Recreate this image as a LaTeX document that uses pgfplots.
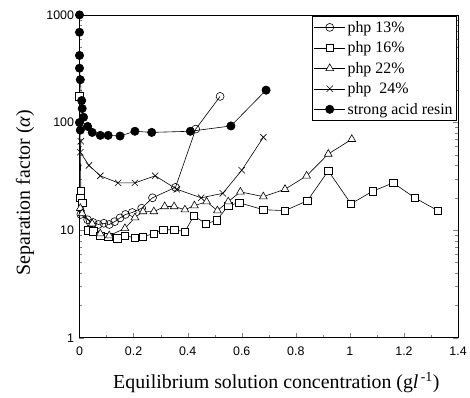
\documentclass[border=0pt]{standalone}
\usepackage{fontspec}
\setmainfont{Liberation Serif}
\newfontfamily\arial{Liberation Sans}
\usepackage{pgfplots}
\pgfplotsset{compat=1.18}
\begin{document}
\begin{tikzpicture}
\begin{axis}[
  scale only axis, width=381pt, height=325pt,
  xmin=0, xmax=1.4, ymin=1, ymax=1000, ymode=log,
  xtick={0,0.2,0.4,0.6,0.8,1,1.2,1.4},
  xticklabels={0,0.2,0.4,0.6,0.8,1,1.2,1.4},
  minor x tick num=1,
  ytick={1,10,100,1000}, yticklabels={1,10,100,1000},
  tick align=inside, xtick pos=left, ytick pos=both,
  major tick length=5pt, minor tick length=3pt,
  ticklabel style={font=\arial\fontsize{12.5}{14}\selectfont},
  xticklabel style={yshift=-6pt},
  yticklabel style={xshift=-2pt},
  axis line style={line width=0.8pt},
  xlabel={Equilibrium solution concentration (g\textit{l}\textsuperscript{\,-1})},
  ylabel={Separation factor (\textit{α})},
  label style={font=\fontsize{20}{24}\selectfont},
  xlabel style={at={(rel axis cs:0.52,-0.157)}, anchor=base},
  ylabel style={at={(rel axis cs:-0.144,0.45)}, anchor=center},
  legend style={at={(rel axis cs:0.997,0.997)}, anchor=north east,
    font=\fontsize{16}{18}\selectfont, draw=black, line width=0.6pt,
    inner xsep=2pt, inner ysep=3pt, row sep=4pt},
  legend cell align=left,
  legend image code/.code={\draw[mark repeat=2,mark phase=2,#1] plot coordinates {(0cm,0cm) (0.55cm,0cm) (1.1cm,0cm)};},
  clip=false,
  every axis plot/.append style={black, line width=0.6pt},
]
% php 13%
\addplot[mark=o, mark options={fill=white, solid}, mark size=4pt] coordinates {
(0.005,14) (0.03,12.5) (0.05,11.8) (0.07,11.3) (0.09,11.6) (0.11,11.3) (0.13,12)
(0.15,13) (0.17,14) (0.195,14.6) (0.23,16) (0.27,20) (0.355,25) (0.43,87) (0.52,175)};
\addlegendentry{php 13\%}
% php 16%
\addplot[mark=square*, mark options={fill=white}, mark size=3.8pt] coordinates {
(0.0,175) (0.005,23) (0.003,20) (0.01,18) (0.033,10) (0.051,9.8) (0.077,8.9) (0.106,8.7)
(0.139,8.4) (0.168,8.9) (0.205,8.5) (0.234,8.7) (0.274,9.3) (0.31,10.1) (0.35,10.1)
(0.39,9.7) (0.423,13.6) (0.467,11.5) (0.507,12.3) (0.55,16.9) (0.59,18) (0.68,15.5)
(0.76,15.2) (0.843,18.8) (0.92,35.6) (1.004,17.6) (1.084,23) (1.16,27.5) (1.24,20) (1.325,15.2)};
\addlegendentry{php 16\%}
% php 22%
\addplot[mark=triangle*, mark options={fill=white}, mark size=4.5pt] coordinates {
(0.003,16) (0.01,14.3) (0.047,11.5) (0.077,9.3) (0.11,8.9) (0.168,10.4) (0.205,13.1)
(0.235,14.9) (0.275,14.9) (0.315,16.6) (0.35,16.6) (0.39,15.5) (0.425,16.9) (0.47,18.4)
(0.51,15.2) (0.55,18.4) (0.595,22.7) (0.68,20.5) (0.76,24) (0.84,32) (0.92,51) (1.007,70)};
\addlegendentry{php 22\%}
% php 24%
\addplot[mark=x, mark size=4.5pt] coordinates {
(0.005,67) (0.003,53) (0.035,40) (0.077,32) (0.143,27.5) (0.205,27.5) (0.28,32)
(0.36,24) (0.45,20) (0.53,22) (0.60,36) (0.68,73)};
\addlegendentry{php \ 24\%}
% strong acid resin
\addplot[mark=*, mark options={fill=black}, mark size=4.2pt] coordinates {
(0,1000) (0,690) (0,420) (0,320) (0.003,250) (0.008,160) (0.01,135) (0.015,112)
(0.0,100) (0.003,85) (0.03,92) (0.047,81) (0.077,76) (0.106,76) (0.15,75)
(0.205,83) (0.267,81) (0.41,83) (0.56,93) (0.69,200)};
\addlegendentry{strong acid resin}
\end{axis}
\path (current axis.south west) ++(-80pt,-60pt);
\path (current axis.north east) ++(9pt,15pt);
\end{tikzpicture}
\end{document}
